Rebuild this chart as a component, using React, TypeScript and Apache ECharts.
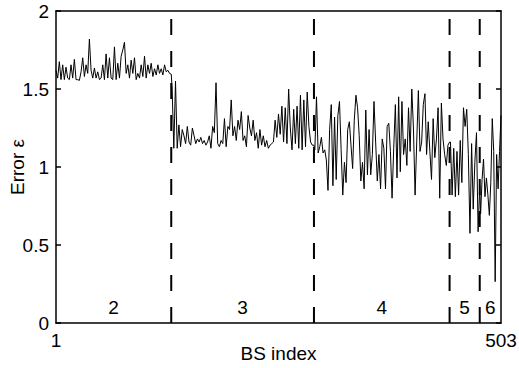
import React, { useEffect, useRef } from "react";
import * as echarts from "echarts";

// BS index boundaries between the regions (dashed lines)
const segBounds = [1, 131, 292, 445, 479, 503];
const segLabels = ["2", "3", "4", "5", "6"];
const xTickLabels = [1, 503];
const yTicks = { min: 0, max: 2, interval: 0.5 };

// Error values read per region (sampled evenly across each region)
const errRegion2 = [
  1.62, 1.57, 1.675, 1.56, 1.655, 1.56, 1.64, 1.57, 1.56, 1.655,
  1.57, 1.69, 1.56, 1.56, 1.555, 1.61, 1.7, 1.58, 1.655, 1.6,
  1.82, 1.62, 1.57, 1.635, 1.57, 1.61, 1.56, 1.57, 1.655, 1.56,
  1.725, 1.57, 1.7, 1.57, 1.56, 1.77, 1.56, 1.665, 1.57, 1.71,
  1.75, 1.8, 1.6, 1.655, 1.57, 1.685, 1.6, 1.7, 1.56, 1.6,
  1.57, 1.655, 1.58, 1.71, 1.57, 1.655, 1.6, 1.665, 1.58, 1.63,
  1.59, 1.655, 1.6, 1.63, 1.59, 1.655, 1.61, 1.62, 1.6, 1.595,
];
const errRegion3 = [
  1.5,
  1.12, 1.55, 1.12, 1.27, 1.13, 1.24, 1.2, 1.15, 1.26, 1.16,
  1.14, 1.25, 1.2, 1.15, 1.18, 1.16, 1.19, 1.15, 1.17, 1.14,
  1.16, 1.2, 1.12, 1.26, 1.22, 1.54, 1.15, 1.13, 1.17, 1.15,
  1.31, 1.13, 1.26, 1.24, 1.43, 1.2, 1.26, 1.17, 1.3, 1.24,
  1.355, 1.17, 1.2, 1.13, 1.33, 1.25, 1.2, 1.3, 1.17, 1.22,
  1.12, 1.24, 1.14, 1.2, 1.13, 1.17, 1.12, 1.14, 1.15, 1.16,
  1.3, 1.19, 1.34, 1.21, 1.39, 1.16, 1.38, 1.15, 1.5, 1.25,
  1.11, 1.37, 1.15, 1.39, 1.12, 1.46, 1.11, 1.43, 1.13, 1.48,
  1.26, 1.16, 1.14, 1.14,
];
const errRegion4 = [
  1.11, 1.45, 1.09, 1.13, 1.19, 1.09, 1.11, 1.045, 0.85, 1.24,
  1.4, 0.88, 1.32, 0.92, 1.33, 1.42, 1.11, 0.82, 1.03, 0.9,
  1.24, 1.29, 1.14, 0.99, 1.3, 1.46, 1.38, 1.2, 0.91, 1.03,
  0.86, 1.365, 0.95, 1.24, 0.95, 1.08, 1.42, 1.16, 0.91, 1.08,
  0.86, 1.18, 1.12, 0.86, 1.26, 1.28, 1.1, 0.8, 1.12, 1.4,
  0.93, 1.45, 0.97, 1.42, 1.08, 1.18, 1.01, 1.38, 1.1, 1.5,
  1.25, 0.82, 1.16, 1.49, 1.1, 1.16, 1.4, 1.47, 1.08, 1.29,
  1.1, 0.92, 1.31, 1.06, 1.18, 1.38, 0.8, 1.41, 1.18, 1.08,
  1.01, 1.14, 1.16,
];
const errRegion5 = [
  1.16, 0.82, 1.12, 0.81, 1.1, 0.82, 1.17, 0.9, 1.38, 1.26,
  1.37, 1.08, 0.575, 1.15, 0.73, 1.03, 1.22, 0.585, 0.88,
];
const errRegion6 = [
  0.7, 0.92, 1.05, 0.81, 0.93, 0.82, 0.69, 0.9, 1.31, 1.1,
  0.265, 1.08, 0.86, 1.1, 1.33,
];
const errRegions = [errRegion2, errRegion3, errRegion4, errRegion5, errRegion6];
const labelY = 0.1;

const FONT = "Liberation Sans, Arial, sans-serif";

export default function App() {
  const ref = useRef<HTMLDivElement>(null);
  useEffect(() => {
    if (!ref.current) return;
    const chart = echarts.init(ref.current, undefined, { renderer: "svg" });

    const lineData: number[][] = [];
    errRegions.forEach((vals, k) => {
      const start = k === 0 ? segBounds[0] : segBounds[k] + 1;
      const end = segBounds[k + 1];
      const n = vals.length;
      vals.forEach((v, j) => {
        lineData.push([start + (j * (end - start)) / (n - 1), v]);
      });
    });

    const dashSeries = segBounds.slice(1, -1).map((b) => ({
      type: "line",
      data: [
        [b, yTicks.min],
        [b, yTicks.max],
      ],
      symbol: "none",
      silent: true,
      lineStyle: { color: "#000", width: 2, type: [16, 16], dashOffset: 0 },
      z: 1,
    }));

    const labelData = segLabels.map((name, k) => ({
      name,
      value: [(segBounds[k] + segBounds[k + 1]) / 2, labelY],
    }));

    const axisLine = { show: true, onZero: false, lineStyle: { color: "#000", width: 1.5 } };
    const txt = { color: "#000", fontSize: 19, fontFamily: FONT };

    chart.setOption({
      animation: false,
      backgroundColor: "#fff",
      grid: { left: 56, right: 18, top: 11, bottom: 45, containLabel: false, outerBoundsMode: "none" },
      xAxis: [
        {
          type: "value",
          min: segBounds[0],
          max: segBounds[segBounds.length - 1],
          axisLine,
          axisTick: { show: false },
          splitLine: { show: false },
          axisLabel: { ...txt, customValues: xTickLabels, margin: 8 },
          name: "BS index",
          nameLocation: "middle",
          nameGap: 21,
          nameMoveOverlap: false,
          nameTextStyle: { ...txt },
        },
        {
          type: "value",
          position: "top",
          min: segBounds[0],
          max: segBounds[segBounds.length - 1],
          axisLine,
          axisTick: { show: false },
          splitLine: { show: false },
          axisLabel: { show: false },
        },
      ],
      yAxis: [
        {
          type: "value",
          min: yTicks.min,
          max: yTicks.max,
          interval: yTicks.interval,
          axisLine,
          axisTick: { show: true, inside: true, length: 5, lineStyle: { color: "#000", width: 1.5 } },
          splitLine: { show: false },
          axisLabel: { ...txt, margin: 7 },
          name: "Error ε",
          nameLocation: "middle",
          nameGap: 29,
          nameMoveOverlap: false,
          nameTextStyle: { ...txt },
        },
        {
          type: "value",
          position: "right",
          min: yTicks.min,
          max: yTicks.max,
          interval: yTicks.interval,
          axisLine,
          axisTick: { show: true, inside: true, length: 5, lineStyle: { color: "#000", width: 1.5 } },
          splitLine: { show: false },
          axisLabel: { show: false },
        },
      ],
      series: [
        ...dashSeries,
        {
          type: "line",
          data: lineData,
          symbol: "none",
          lineStyle: { color: "#000", width: 1 },
          z: 2,
        },
        {
          type: "scatter",
          data: labelData,
          symbolSize: 0,
          itemStyle: { color: "#000", opacity: 1 },
          label: {
            show: true,
            position: "inside",
            formatter: (p: any) => p.name,
            ...txt,
            opacity: 1,
            textBorderWidth: 0,
          },
          z: 3,
        },
      ],
    });
    return () => chart.dispose();
  }, []);
  return <div ref={ref} style={{ width: 519, height: 368, position: "absolute", left: 0, top: 0 }} />;
}
